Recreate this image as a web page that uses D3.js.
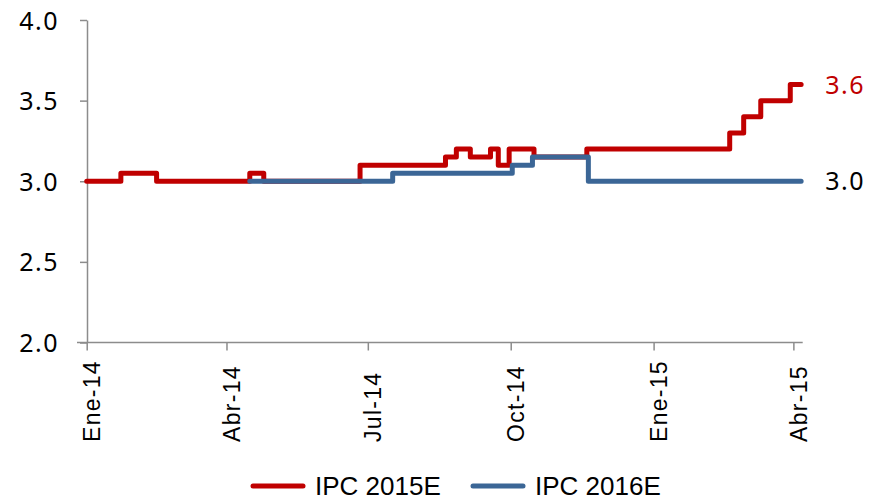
<!DOCTYPE html>
<meta charset="utf-8">
<style>
  body { margin: 0; background: #fff; }
  .ylab text { font-family: "Noto Sans", "Open Sans", sans-serif; font-size: 25px; letter-spacing: 1.5px; fill: #000; }
  .xlab text { font-family: "Liberation Sans", Arial, sans-serif; font-size: 23px; letter-spacing: 1.3px; fill: #000; }
  .legend text { font-family: "Liberation Sans", Arial, sans-serif; font-size: 26px; fill: #000; }
  .endlab { font-family: "Noto Sans", "Open Sans", sans-serif; font-size: 25px; letter-spacing: 1.5px; }
</style>
<body>
<svg width="877" height="501"></svg>
<script src="https://d3js.org/d3.v7.min.js"></script>
<script>

// step changes (date of change, new value)
var ipc2015Dates = ["2014-01-01","2014-01-23","2014-02-15","2014-04-16","2014-04-25","2014-06-26",
  "2014-08-20","2014-08-27","2014-09-05","2014-09-18","2014-09-23","2014-09-30","2014-10-16",
  "2014-11-19","2015-02-19","2015-02-28","2015-03-11","2015-03-30","2015-04-06"]
var ipc2015Values = [3.0, 3.05, 3.0, 3.05, 3.0, 3.1,
  3.15, 3.2, 3.15, 3.2, 3.1, 3.2, 3.15,
  3.2, 3.3, 3.4, 3.5, 3.6, 3.6]

var ipc2016Dates = ["2014-04-16","2014-07-17","2014-10-02","2014-10-15","2014-11-20","2015-04-06"]
var ipc2016Values = [3.0, 3.05, 3.1, 3.15, 3.0, 3.0]

var tickDates = ["2014-01-01","2014-04-01","2014-07-01","2014-10-01","2015-01-01","2015-04-01"]
var tickLabels = ["Ene-14","Abr-14","Jul-14","Oct-14","Ene-15","Abr-15"]
var yTicks = [2.0, 2.5, 3.0, 3.5, 4.0]

var parse = d3.utcParse("%Y-%m-%d")
var red = "#c00000"
var blue = "#3b6696"
var axisColor = "#8c8c8c"

function toSeries(dates, values) {
  return dates.map(function (d, i) { return { date: parse(d), value: values[i] } })
}
var s2015 = toSeries(ipc2015Dates, ipc2015Values)
var s2016 = toSeries(ipc2016Dates, ipc2016Values)

var svg = d3.select("svg")

var x = d3.scaleUtc()
  .domain([parse("2014-01-01"), parse("2015-04-07")])
  .range([86.7, 802.7])

var y = d3.scaleLinear()
  .domain([2, 4])
  .range([342.5, 20])

// y axis
var yAxis = svg.append("g")
  .attr("class", "ylab")
  .attr("transform", "translate(87,0)")
  .call(d3.axisLeft(y).tickValues(yTicks).tickFormat(d3.format(".1f")).tickSize(7).tickSizeOuter(0).tickPadding(21))
yAxis.select(".domain").attr("stroke", axisColor).attr("stroke-width", 1.5)
yAxis.selectAll(".tick line").attr("stroke", axisColor).attr("stroke-width", 1.5)
yAxis.selectAll("text").attr("font-size", null).attr("font-family", null).attr("dy", "0.36em")

// x axis
var xAxis = svg.append("g")
  .attr("class", "xlab")
  .attr("transform", "translate(0,342.5)")
  .call(d3.axisBottom(x).tickValues(tickDates.map(parse))
    .tickFormat(function (d, i) { return tickLabels[i] }).tickSize(8).tickSizeOuter(0))
xAxis.select(".domain").remove()
xAxis.append("line")
  .attr("x1", 77).attr("x2", x.range()[1])
  .attr("stroke", axisColor).attr("stroke-width", 1.5)
xAxis.selectAll(".tick line").attr("stroke", axisColor).attr("stroke-width", 1.5)
xAxis.selectAll("text")
  .attr("font-size", null).attr("font-family", null)
  .attr("y", 0).attr("dy", 0)
  .attr("text-anchor", "start")
  .attr("transform", "translate(13,99.5) rotate(-90)")

// lines
var line = d3.line()
  .x(function (d) { return x(d.date) })
  .y(function (d) { return y(d.value) })
  .curve(d3.curveStepAfter)

svg.append("path").datum(s2015)
  .attr("d", line).attr("fill", "none")
  .attr("stroke", red).attr("stroke-width", 5)
  .attr("stroke-linejoin", "round").attr("stroke-linecap", "round")

svg.append("path").datum(s2016)
  .attr("d", line).attr("fill", "none")
  .attr("stroke", blue).attr("stroke-width", 5)
  .attr("stroke-linejoin", "round").attr("stroke-linecap", "round")

// end labels
var last15 = s2015[s2015.length - 1]
var last16 = s2016[s2016.length - 1]
svg.append("text").attr("class", "endlab")
  .attr("x", x(last15.date) + 24).attr("y", y(last15.value)).attr("dy", "0.36em")
  .attr("fill", red).text(d3.format(".1f")(last15.value))
svg.append("text").attr("class", "endlab")
  .attr("x", x(last16.date) + 24).attr("y", y(last16.value)).attr("dy", "0.36em")
  .attr("fill", "#000").text(d3.format(".1f")(last16.value))

// legend
var legendItems = [
  { name: "IPC 2015E", color: red, x: 253 },
  { name: "IPC 2016E", color: blue, x: 473 }
]
var legend = svg.append("g").attr("class", "legend")
legendItems.forEach(function (item) {
  legend.append("line")
    .attr("x1", item.x).attr("x2", item.x + 50)
    .attr("y1", 486).attr("y2", 486)
    .attr("stroke", item.color).attr("stroke-width", 5).attr("stroke-linecap", "round")
  legend.append("text")
    .attr("x", item.x + 62).attr("y", 495)
    .text(item.name)
})

</script>
</body>
